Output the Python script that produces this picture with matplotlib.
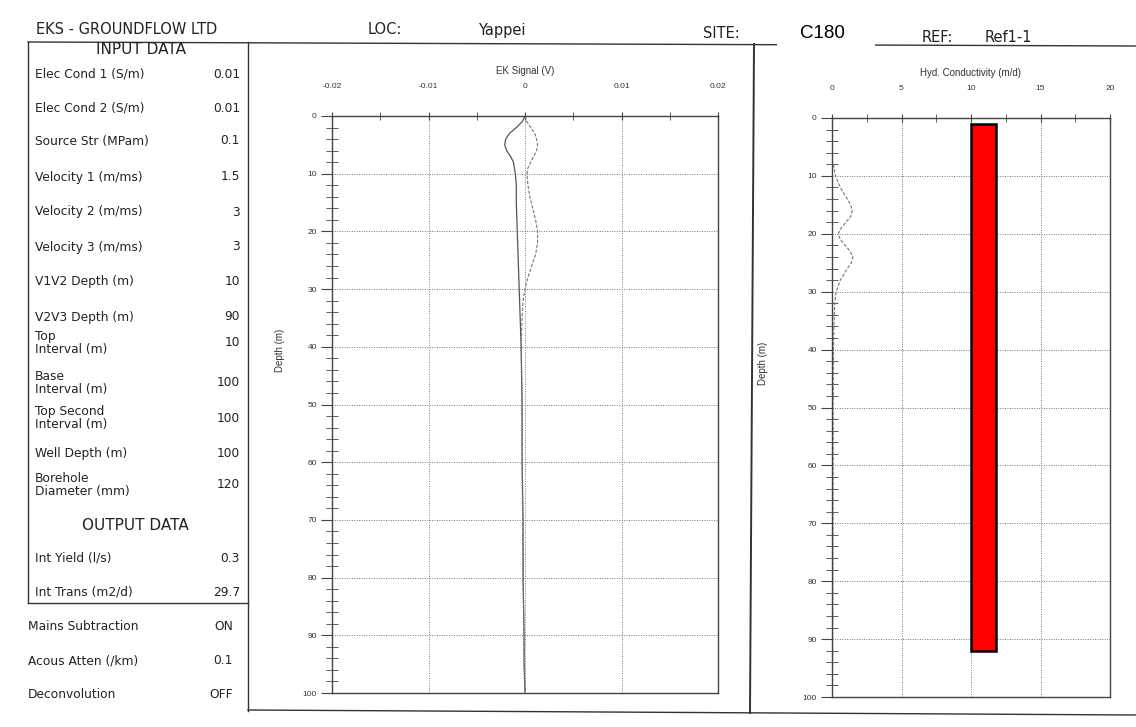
import numpy as np
import matplotlib.pyplot as plt
from matplotlib.lines import Line2D
from matplotlib.patches import Rectangle
from matplotlib.ticker import MultipleLocator

W, H = 1136, 727

company = "EKS - GROUNDFLOW LTD"
loc_name = "Yappei"
site_name = "C180"
ref_name = "Ref1-1"

input_labels = ["Elec Cond 1 (S/m)", "Elec Cond 2 (S/m)", "Source Str (MPam)",
                "Velocity 1 (m/ms)", "Velocity 2 (m/ms)", "Velocity 3 (m/ms)",
                "V1V2 Depth (m)", "V2V3 Depth (m)", "Top\nInterval (m)",
                "Base\nInterval (m)", "Top Second\nInterval (m)", "Well Depth (m)",
                "Borehole\nDiameter (mm)"]
input_values = ["0.01", "0.01", "0.1", "1.5", "3", "3", "10", "90", "10",
                "100", "100", "100", "120"]
output_labels = ["Int Yield (l/s)", "Int Trans (m2/d)"]
output_values = ["0.3", "29.7"]
setting_labels = ["Mains Subtraction", "Acous Atten (/km)", "Deconvolution"]
setting_values = ["ON", "0.1", "OFF"]

# EK signal traces (depth in m, signal in V)
depth_a = [0, 1, 2, 3, 4, 5, 6, 7, 8, 10, 12, 15, 20, 25, 30, 40, 50, 60, 70, 80, 90, 95, 100]
signal_a = [0, -0.0003, -0.0009, -0.0016, -0.0020, -0.0021, -0.0019, -0.0015, -0.0012,
            -0.0010, -0.0009, -0.0009, -0.0008, -0.0007, -0.0006, -0.0004, -0.0003,
            -0.0003, -0.0002, -0.0002, -0.0001, -0.0001, 0]
depth_b = [0, 1, 2, 3, 4, 5, 6, 7, 8, 9, 10, 12, 14, 16, 18, 20, 22, 24, 26, 28, 30,
           32, 35, 40, 50, 60, 80, 100]
signal_b = [0, 0.0002, 0.0006, 0.0010, 0.0012, 0.0013, 0.0012, 0.0009, 0.0006, 0.0003,
            0.0002, 0.0003, 0.0005, 0.0008, 0.0011, 0.0013, 0.0013, 0.0011, 0.0007,
            0.0003, 0.0000, -0.0002, -0.0003, -0.0004, -0.0003, -0.0003, -0.0002, 0]

# hydraulic conductivity trace
depth_k = [8, 10, 12, 14, 15, 16, 17, 18, 19, 20, 21, 22, 23, 24, 25, 26, 28, 30, 32,
           35, 40, 50, 60, 70, 80, 90, 95]
cond_k = [0.1, 0.25, 0.6, 1.1, 1.35, 1.45, 1.35, 1.0, 0.65, 0.45, 0.6, 0.95, 1.3, 1.5,
          1.4, 1.1, 0.6, 0.3, 0.2, 0.15, 0.1, 0.08, 0.08, 0.07, 0.06, 0.05, 0.05]

# interval bar
bar_k = 1.8
bar_top = 1
bar_base = 92


def fx(x):
    return x / W


def fy(y):
    return 1 - y / H


def rect(l, t, r, b):
    return [fx(l), fy(b), fx(r) - fx(l), fy(t) - fy(b)]


def fig_line(fig, x0, y0, x1, y1, lw=1.0):
    fig.add_artist(Line2D([fx(x0), fx(x1)], [fy(y0), fy(y1)], color="#333333",
                          lw=lw, transform=fig.transFigure))


def style_axes(ax, xmax_major, xminor, xlabel, ylab_xy):
    ax.set_ylim(100, 0)
    ax.xaxis.tick_top()
    ax.xaxis.set_label_position("top")
    ax.set_xlabel(xlabel, fontsize=7, family="Liberation Sans", color="#333333", labelpad=6)
    ax.set_ylabel("Depth (m)", fontsize=7, family="Liberation Sans", color="#333333")
    ax.yaxis.set_label_coords(*ylab_xy)
    ax.xaxis.set_major_locator(MultipleLocator(xmax_major))
    ax.xaxis.set_minor_locator(MultipleLocator(xminor))
    ax.yaxis.set_major_locator(MultipleLocator(10))
    ax.yaxis.set_minor_locator(MultipleLocator(2))
    ax.tick_params(axis="x", which="major", direction="inout", length=6, pad=16,
                   labelsize=6, labelcolor="#333333", color="#444444")
    ax.tick_params(axis="x", which="minor", direction="inout", length=6, color="#444444")
    ax.tick_params(axis="y", which="major", direction="out", length=8, pad=3,
                   labelsize=6, labelcolor="#333333", color="#444444")
    ax.tick_params(axis="y", which="minor", direction="inout", length=8, color="#444444")
    for lab in ax.get_xticklabels() + ax.get_yticklabels():
        lab.set_family("Liberation Sans")
    ax.grid(True, which="major", linestyle=(0, (1, 1.5)), color="#777777", lw=0.7)
    for s in ax.spines.values():
        s.set_color("#444444")
        s.set_linewidth(1.0)


fig = plt.figure(figsize=(W / 100, H / 100), dpi=100)
fig.patch.set_facecolor("white")

# frame lines
fig_line(fig, 28, 42, W, 46)
fig_line(fig, 28, 42, 28, 603)
fig_line(fig, 28, 603, 248, 603)
fig_line(fig, 248, 42, 248, 711)
fig_line(fig, 754, 44, 750, 713, lw=1.4)
fig_line(fig, 248, 710, W, 715)

# white label box covering the header line
fig.add_artist(Rectangle((fx(777), fy(62)), fx(875) - fx(777), fy(13) - fy(62),
                         facecolor="white", edgecolor="none", transform=fig.transFigure,
                         zorder=5))

hdr = dict(fontsize=10.5, family="DejaVu Sans", color="#222222", va="center")
fig.text(fx(36), fy(29), company, **hdr)
fig.text(fx(368), fy(30), "LOC:", **hdr)
fig.text(fx(478), fy(31), loc_name, **hdr)
fig.text(fx(703), fy(34), "SITE:", **hdr)
fig.text(fx(922), fy(37), "REF:", **hdr)
fig.text(fx(985), fy(38), ref_name, **hdr)
fig.text(fx(800), fy(34), site_name, fontsize=13.5, family="Liberation Sans",
         color="black", va="center", zorder=6)

# left data panel
lab = dict(fontsize=8.8, family="DejaVu Sans", color="#222222", va="center",
           linespacing=1.05)
fig.text(fx(141), fy(50), "INPUT DATA", fontsize=11, family="DejaVu Sans",
         color="#222222", ha="center", va="center")
input_y = [74, 108, 141, 177, 212, 247, 282, 317, 343, 383, 418, 453, 485]
for name, val, y in zip(input_labels, input_values, input_y):
    fig.text(fx(35), fy(y), name, **lab)
    fig.text(fx(240), fy(y), val, ha="right", **lab)

fig.text(fx(135), fy(525), "OUTPUT DATA", fontsize=11, family="DejaVu Sans",
         color="#222222", ha="center", va="center")
output_y = [558, 592]
for name, val, y in zip(output_labels, output_values, output_y):
    fig.text(fx(35), fy(y), name, **lab)
    fig.text(fx(240), fy(y), val, ha="right", **lab)

setting_y = [626, 661, 695]
for name, val, y in zip(setting_labels, setting_values, setting_y):
    fig.text(fx(28), fy(y), name, **lab)
    fig.text(fx(233), fy(y), val, ha="right", **lab)

# EK signal panel
ax1 = fig.add_axes(rect(332, 116, 718, 693))
ax1.set_xlim(-0.02, 0.02)
style_axes(ax1, 0.01, 0.005, "EK Signal (V)", (-0.122, 0.594))
ax1.xaxis.set_major_formatter(plt.FuncFormatter(lambda v, p: "0" if abs(v) < 1e-12 else f"{v:g}"))
ax1.plot(signal_a, depth_a, color="#555555", lw=0.9)
ax1.plot(signal_b, depth_b, color="#777777", lw=0.8, linestyle=(0, (3, 1.5)))

# hydraulic conductivity panel
ax2 = fig.add_axes(rect(832, 118, 1110, 697))
ax2.set_xlim(0, 20)
style_axes(ax2, 5, 2.5, "Hyd. Conductivity (m/d)", (-0.23, 0.577))
ax2.plot(cond_k, depth_k, color="#777777", lw=0.8, linestyle=(0, (3, 1.5)))
ax2.bar(10, bar_base - bar_top, width=bar_k, bottom=bar_top, align="edge",
        color="#ff0000", edgecolor="black", linewidth=1.8, zorder=3)

fig.savefig("out.png", dpi=100, facecolor="white")
